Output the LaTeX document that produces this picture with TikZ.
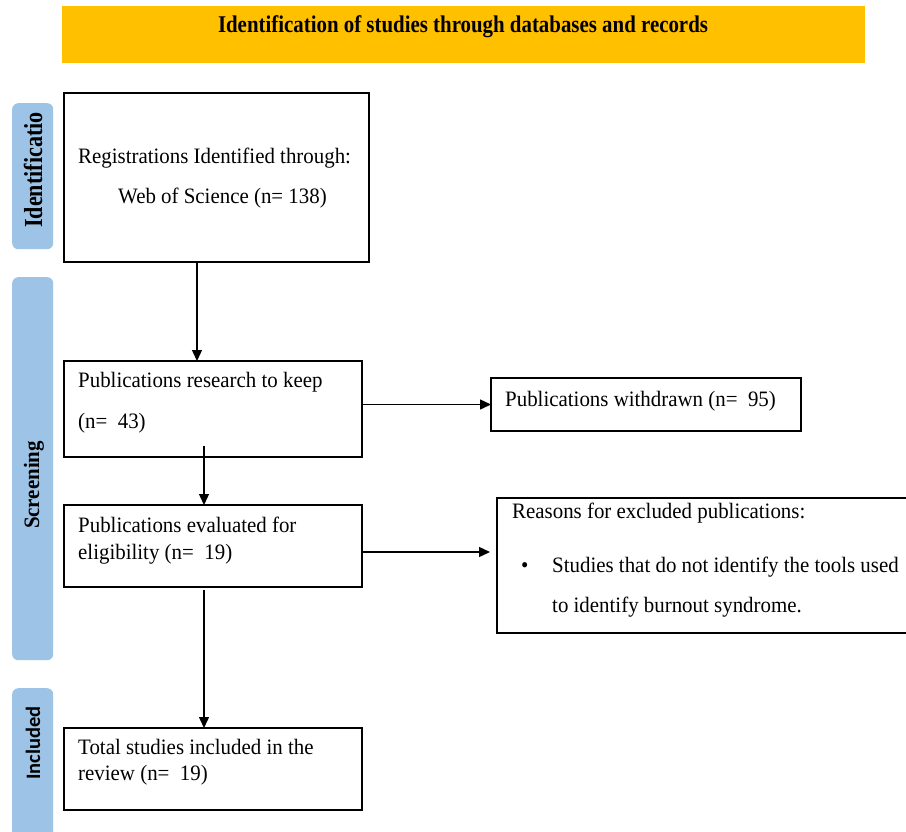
\documentclass[tikz,border=0pt]{standalone}
\usepackage{fontspec}
\setmainfont{Liberation Serif}
\newfontfamily\bodyfont[FakeStretch=0.95]{Liberation Serif}
\newfontfamily\hdrfont[FakeStretch=0.87]{Liberation Serif}
\newfontfamily\sidefont[FakeStretch=0.85]{Liberation Serif}
\newfontfamily\scrfont[FakeStretch=0.95]{Liberation Serif}
\newfontfamily\calfont{Carlito}
\usetikzlibrary{arrows.meta}
\definecolor{hdrfill}{HTML}{FFC000}
\definecolor{sidefill}{HTML}{9DC3E6}
\tikzset{
  stagebox/.style={draw=black, line width=1.4pt, fill=white, inner sep=0pt, outer sep=0pt, anchor=north west},
  bodytext/.style={anchor=base west, inner sep=0pt, font=\bodyfont\fontsize{22}{26}\selectfont},
  sidebar/.style={fill=sidefill, draw=none, rounded corners=6pt},
  arr/.style={line width=1.4pt, -{Triangle[length=11pt,width=10pt]}},
}
\begin{document}
\begin{tikzpicture}[x=1pt,y=-1pt]
\clip (0,0) rectangle (906,831);
\useasboundingbox (0,0) rectangle (906,831);
% header
\node[fill=hdrfill, inner sep=0pt, anchor=north west, minimum width=803pt, minimum height=57pt] (hdr) at (62,6) {};
\node[anchor=base, inner sep=0pt, font=\hdrfont\bfseries\fontsize{24}{28}\selectfont] (hdrtxt) at (463,32) {Identification of studies through databases and records};
% side bars
\node[sidebar, anchor=north west, minimum width=41pt, minimum height=146pt, inner sep=0pt] (sid) at (12,103) {};
\node[rotate=90, inner sep=0pt, font=\sidefont\bfseries\fontsize{26}{30}\selectfont] (sidtxt) at (33,170) {Identificatio};
\node[sidebar, anchor=north west, minimum width=41pt, minimum height=383pt, inner sep=0pt] (scr) at (12,277) {};
\node[rotate=90, inner sep=0pt, font=\scrfont\bfseries\fontsize{22}{26}\selectfont] (scrtxt) at (34,485) {Screening};
\node[sidebar, anchor=north west, minimum width=41pt, minimum height=170pt, inner sep=0pt] (inc) at (12,688) {};
\node[rotate=90, inner sep=0pt, font=\calfont\bfseries\fontsize{20.5}{24}\selectfont] (inctxt) at (33,743) {Included};
% boxes
\node[stagebox, minimum width=305pt, minimum height=169pt] (b1) at (64,93) {};
\node[bodytext] (t1a) at (78,163) {Registrations Identified through:};
\node[bodytext] (t1b) at (118,203) {Web of Science (n= 138)};
\node[stagebox, minimum width=298pt, minimum height=96pt] (b2) at (64,361) {};
\node[bodytext] (t2a) at (78,387) {Publications research to keep};
\node[bodytext] (t2b) at (78,428) {(n=\ \ 43)};
\node[stagebox, minimum width=310pt, minimum height=53pt] (wd) at (491,378) {};
\node[bodytext] (twd) at (505,406) {Publications withdrawn (n=\ \ 95)};
\node[stagebox, minimum width=298pt, minimum height=82pt] (b3) at (64,505) {};
\node[bodytext] (t3a) at (78,532) {Publications evaluated for};
\node[bodytext] (t3b) at (78,559) {eligibility (n=\ \ 19)};
\node[stagebox, minimum width=420pt, minimum height=135pt] (rs) at (497,498) {};
\node[bodytext] (trs) at (512,518) {Reasons for excluded publications:};
\node[bodytext] (bul) at (521,572) {•};
\node[bodytext] (trs1) at (552,572) {Studies that do not identify the tools used};
\node[bodytext] (trs2) at (552,612) {to identify burnout syndrome.};
\node[stagebox, minimum width=298pt, minimum height=82pt] (b4) at (64,728) {};
\node[bodytext] (t4a) at (78,754) {Total studies included in the};
\node[bodytext] (t4b) at (78,780) {review (n=\ \ 19)};
% connectors
\coordinate (c1) at (197,0);
\coordinate (c2) at (204,446);
\coordinate (c3) at (490,552);
\coordinate (c4) at (204,590);
\draw[arr] (b1.south -| c1) -- (b2.north -| c1);
\draw[arr] (b2.east |- wd.west) -- (wd.west);
\draw[arr] (c2) -- (b3.north -| c2);
\draw[arr] (b3.east |- c3) -- (c3);
\draw[arr] (c4) -- (b4.north -| c4);
\end{tikzpicture}
\end{document}
